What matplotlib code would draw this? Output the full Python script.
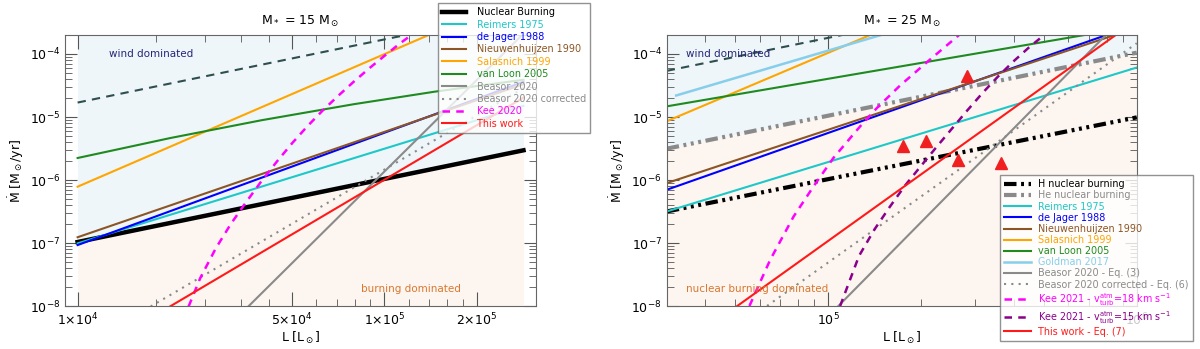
import matplotlib.pyplot as plt
from matplotlib.ticker import FixedLocator, NullFormatter

# ---------------- data: M = 15 Msun panel ----------------
L15 = [1.0e4, 2.84e5]                  # x-span of the 15 Msun relations
nuc_15 = [1.05e-7, 2.98e-6]
reimers_15 = [1.0e-7, 1.51e-5]
dejager_15 = [9.4e-8, 3.62e-5]
nieuw_15 = [1.25e-7, 3.33e-5]
salas_15 = [7.9e-7, 8.9e-4]
vanloon_L15 = [1.0e4, 2.0e4, 3.98e4, 7.94e4, 1.46e5, 2.84e5]
vanloon_15 = [2.25e-6, 4.65e-6, 8.93e-6, 1.60e-5, 2.53e-5, 3.90e-5]
upper_15 = [1.7e-5, 4.83e-4]
beasor_L15 = [3.6e4, 2.84e5]
beasor_15 = [1.0e-8, 2.1e-4]
beasorc_L15 = [1.73e4, 2.84e5]
beasorc_15 = [1.0e-8, 2.88e-5]
work_L15 = [2.0e4, 2.84e5]
work_15 = [1.0e-8, 2.04e-5]
kee_L15 = [2.30e4, 2.51e4, 2.82e4, 3.16e4, 3.55e4, 3.98e4, 4.47e4, 5.01e4,
           5.62e4, 6.31e4, 7.08e4, 7.94e4, 8.91e4, 1.0e5, 1.12e5, 1.20e5]
kee_15 = [1.0e-8, 2.82e-8, 8.32e-8, 2.04e-7, 4.57e-7, 9.77e-7, 2.00e-6, 3.89e-6,
          7.24e-6, 1.29e-5, 2.19e-5, 3.63e-5, 5.89e-5, 9.33e-5, 1.45e-4, 1.86e-4]

# ---------------- data: M = 25 Msun panel ----------------
L25 = [3.0e4, 1.0e6]
hnuc_25 = [3.2e-7, 9.9e-6]
henuc_25 = [3.16e-6, 1.05e-4]
upper_25 = [5.4e-5, 1.8e-3]
reimers_25 = [3.2e-7, 6.1e-5]
dejager_L25 = [3.0e4, 8.07e5]
dejager_25 = [7.06e-7, 2.04e-4]
nieuw_L25 = [3.0e4, 8.6e5]
nieuw_25 = [9.0e-7, 2.04e-4]
salas_L25 = [3.0e4, 1.37e5]
salas_25 = [8.6e-6, 2.0e-4]
vanloon_L25 = [3.0e4, 6.95e5]
vanloon_25 = [1.48e-5, 2.04e-4]
goldman_L25 = [3.22e4, 1.5e5]
goldman_25 = [2.2e-5, 2.03e-4]
beasor_L25 = [1.08e5, 7.98e5]
beasor_25 = [1.02e-8, 2.04e-4]
beasorc_L25 = [6.34e4, 1.0e6]
beasorc_25 = [1.02e-8, 1.48e-4]
work_L25 = [5.08e4, 8.6e5]
work_25 = [1.02e-8, 2.04e-4]
kee18_L25 = [5.56e4, 6.49e4, 7.73e4, 8.97e4, 1.04e5, 1.27e5, 1.44e5, 1.71e5, 2.14e5, 2.67e5]
kee18_25 = [1.02e-8, 5.47e-8, 2.66e-7, 7.98e-7, 2.25e-6, 7.14e-6, 1.40e-5, 3.16e-5, 8.18e-5, 2.04e-4]
kee15_L25 = [1.094e5, 1.259e5, 1.413e5, 1.585e5, 1.778e5, 1.995e5, 2.239e5, 2.512e5,
             2.818e5, 3.162e5, 3.548e5, 3.981e5, 4.467e5, 5.012e5]
kee15_25 = [1.02e-8, 6.31e-8, 1.66e-7, 3.80e-7, 8.32e-7, 1.66e-6, 3.31e-6, 6.46e-6,
            1.26e-5, 2.40e-5, 4.37e-5, 7.59e-5, 1.26e-4, 2.0e-4]
obs_L25 = [1.75e5, 2.08e5, 2.81e5, 2.64e5, 3.62e5]
obs_25 = [3.47e-6, 4.13e-6, 4.45e-5, 2.11e-6, 1.87e-6]

YLIM = (1e-8, 2e-4)

C_REIMERS = "#1ec8c8"
C_DEJAGER = "#0000ff"
C_NIEUW = "#8b5526"
C_SALAS = "#ffa500"
C_VANLOON = "#1f8a1f"
C_GOLDMAN = "#87ceeb"
C_BEASOR = "#8a8a8a"
C_KEE18 = "#ff00ff"
C_KEE15 = "#8b008b"
C_WORK = "#ff1a1a"
C_UPPER = "#2f4f4f"
C_WINDFILL = "#eef6fa"
C_BURNFILL = "#fdf6f0"
NUC_STYLE = (0, (3, 1.1, 0.7, 1.1, 0.7, 1.1, 0.7, 1.1))
DOTS = (0, (1, 2.5))
DASH = (0, (3, 2.5))
LW = 1.5
LEG_FS = 6.9


def style_axes(ax, title):
    ax.set_xscale("log")
    ax.set_yscale("log")
    ax.set_ylim(*YLIM)
    for sp in ax.spines.values():
        sp.set_color("#666666")
    ax.tick_params(which="both", direction="in", top=True, right=True,
                   colors="#555555", labelcolor="black", labelsize=9)
    ax.tick_params(axis="x", which="major", length=10, pad=4)
    ax.tick_params(axis="y", which="major", length=8.5)
    ax.tick_params(which="minor", length=5)
    ax.set_title(title, fontsize=9, pad=7)
    ax.set_xlabel(r"L [L$_\odot$]", fontsize=9, labelpad=1)
    ax.set_ylabel(r"$\dot{\mathrm{M}}$ [M$_\odot$/yr]", fontsize=9, labelpad=3)


fig = plt.figure(figsize=(12, 3.49), dpi=100)
ax1 = fig.add_axes([0.0542, 0.1218, 0.3925, 0.778])
ax2 = fig.add_axes([0.5556, 0.1218, 0.3917, 0.778])

# ================= left panel =================
ax = ax1
ax.fill_between(L15, nuc_15, [YLIM[1]] * 2, color=C_WINDFILL, lw=0, zorder=0)
ax.fill_between(L15, [YLIM[0]] * 2, nuc_15, color=C_BURNFILL, lw=0, zorder=0)
ax.plot(L15, upper_15, color=C_UPPER, ls=(0, (4, 3)), lw=LW)
h_nuc, = ax.plot(L15, nuc_15, color="black", lw=3.2, label="Nuclear Burning")
h_rei, = ax.plot(L15, reimers_15, color=C_REIMERS, lw=LW, label="Reimers 1975")
h_dej, = ax.plot(L15, dejager_15, color=C_DEJAGER, lw=LW, label="de Jager 1988")
h_nie, = ax.plot(L15, nieuw_15, color=C_NIEUW, lw=LW, label="Nieuwenhuijzen 1990")
h_sal, = ax.plot(L15, salas_15, color=C_SALAS, lw=LW, label="Salasnich 1999")
h_vl, = ax.plot(vanloon_L15, vanloon_15, color=C_VANLOON, lw=LW, label="van Loon 2005")
h_bea, = ax.plot(beasor_L15, beasor_15, color=C_BEASOR, lw=LW, label="Beasor 2020")
h_bec, = ax.plot(beasorc_L15, beasorc_15, color=C_BEASOR, lw=LW, ls=DOTS,
                 label="Beasor 2020 corrected")
h_kee, = ax.plot(kee_L15, kee_15, color=C_KEE18, lw=LW + 0.3, ls=DASH, label="Kee 2020")
h_wrk, = ax.plot(work_L15, work_15, color=C_WORK, lw=LW, label="This work")

ax.set_xlim(9.1e3, 3.12e5)
style_axes(ax, r"M$_*$ = 15 M$_\odot$")
ax.xaxis.set_major_locator(FixedLocator([1e4, 5e4, 1e5, 2e5]))
ax.set_xticklabels([r"1$\times$10$^4$", r"5$\times$10$^4$", r"1$\times$10$^5$", r"2$\times$10$^5$"])
ax.xaxis.set_minor_locator(FixedLocator([1.8e4, 2.6e4, 3.4e4, 4.2e4, 6e4, 7e4, 8e4, 9e4,
                                         1.2e5, 1.4e5, 1.6e5, 1.8e5]))
ax.xaxis.set_minor_formatter(NullFormatter())
ax.text(1.27e4, 1.0e-4, "wind dominated", color="#26267a", fontsize=7.5, va="center")
ax.text(8.4e4, 1.9e-8, "burning dominated", color="#d9772f", fontsize=7.5, va="center")
leg = ax.legend(handles=[h_nuc, h_rei, h_dej, h_nie, h_sal, h_vl, h_bea, h_bec, h_kee, h_wrk],
                loc="upper right", bbox_to_anchor=(1.115, 1.118), borderaxespad=0,
                fontsize=LEG_FS, labelcolor="linecolor", handlelength=2.5, labelspacing=0.25,
                handletextpad=1.1, borderpad=0.45, fancybox=False, framealpha=0.8,
                edgecolor="#777777")
leg.get_frame().set_linewidth(1.0)

# ================= right panel =================
ax = ax2
ax.fill_between(L25, henuc_25, [YLIM[1]] * 2, color=C_WINDFILL, lw=0, zorder=0)
ax.fill_between(L25, [YLIM[0]] * 2, henuc_25, color=C_BURNFILL, lw=0, zorder=0)
ax.plot(L25, upper_25, color=C_UPPER, ls=(0, (4, 3)), lw=LW)
g_h, = ax.plot(L25, hnuc_25, color="black", lw=3, ls=NUC_STYLE, label="H nuclear burning")
g_he, = ax.plot(L25, henuc_25, color=C_BEASOR, lw=3, ls=NUC_STYLE, label="He nuclear burning")
g_rei, = ax.plot(L25, reimers_25, color=C_REIMERS, lw=LW, label="Reimers 1975")
g_dej, = ax.plot(dejager_L25, dejager_25, color=C_DEJAGER, lw=LW, label="de Jager 1988")
g_nie, = ax.plot(nieuw_L25, nieuw_25, color=C_NIEUW, lw=LW, label="Nieuwenhuijzen 1990")
g_sal, = ax.plot(salas_L25, salas_25, color=C_SALAS, lw=LW, label="Salasnich 1999")
g_vl, = ax.plot(vanloon_L25, vanloon_25, color=C_VANLOON, lw=LW, label="van Loon 2005")
g_gol, = ax.plot(goldman_L25, goldman_25, color=C_GOLDMAN, lw=LW + 0.3, label="Goldman 2017")
g_bea, = ax.plot(beasor_L25, beasor_25, color=C_BEASOR, lw=LW, label="Beasor 2020 - Eq. (3)")
g_bec, = ax.plot(beasorc_L25, beasorc_25, color=C_BEASOR, lw=LW, ls=DOTS,
                 label="Beasor 2020 corrected - Eq. (6)")
g_k18, = ax.plot(kee18_L25, kee18_25, color=C_KEE18, lw=LW + 0.3, ls=DASH,
                 label=r"Kee 2021 - v$_{\rm turb}^{\rm atm}$=18 km s$^{-1}$")
g_k15, = ax.plot(kee15_L25, kee15_25, color=C_KEE15, lw=LW + 0.3, ls=DASH,
                 label=r"Kee 2021 - v$_{\rm turb}^{\rm atm}$=15 km s$^{-1}$")
g_wrk, = ax.plot(work_L25, work_25, color=C_WORK, lw=LW, label="This work - Eq. (7)")
ax.plot(obs_L25, obs_25, ls="none", marker="^", ms=9, color="#f02020", mec="#f02020")

ax.set_xlim(3.0e4, 1.0e6)
style_axes(ax, r"M$_*$ = 25 M$_\odot$")
ax.xaxis.set_major_locator(FixedLocator([1e5, 1e6]))
ax.set_xticklabels([r"10$^5$", r"10$^6$"])
ax.text(3.47e4, 1.0e-4, "wind dominated", color="#26267a", fontsize=7.5, va="center")
ax.text(3.47e4, 1.9e-8, "nuclear burning dominated", color="#d9772f", fontsize=7.5, va="center")
leg = ax.legend(handles=[g_h, g_he, g_rei, g_dej, g_nie, g_sal, g_vl, g_gol, g_bea, g_bec,
                         g_k18, g_k15, g_wrk],
                loc="lower right", bbox_to_anchor=(1.119, -0.127), borderaxespad=0,
                fontsize=LEG_FS, labelcolor="linecolor", handlelength=2.8, labelspacing=0.12,
                handletextpad=0.7, borderpad=0.45, fancybox=False, framealpha=0.8,
                edgecolor="#777777")
leg.get_frame().set_linewidth(1.0)
for t in leg.get_texts():
    if t.get_text() == "H nuclear burning":
        t.set_color("black")

fig.savefig("out.png", dpi=100)
